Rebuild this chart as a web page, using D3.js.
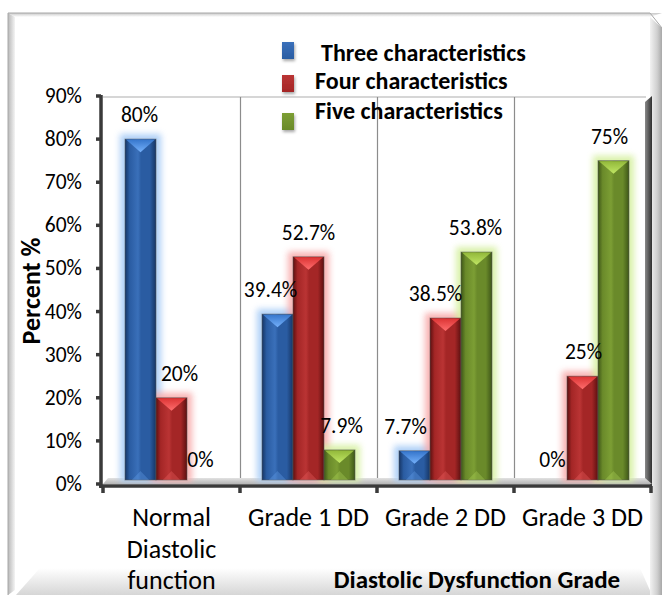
<!DOCTYPE html>
<html><head><meta charset="utf-8">
<script src="https://cdn.jsdelivr.net/npm/d3@7"></script>
<style>
html,body{margin:0;padding:0;background:#fff;}
svg{display:block;}
text{font-family:Carlito,Lato,"Open Sans",sans-serif;fill:#000;}
</style></head>
<body>
<svg id="c" width="662" height="595"></svg>
<script>
// ---- data ----
const categories = [["Normal","Diastolic","function"],["Grade 1 DD"],["Grade 2 DD"],["Grade 3 DD"]];
const seriesNames = ["Three characteristics","Four characteristics","Five characteristics"];
const three = [80, 39.4, 7.7, 0];
const four  = [20, 52.7, 38.5, 25];
const five  = [0, 7.9, 53.8, 75];
const valueLabels = [["80%","20%","0%"],["39.4%","52.7%","7.9%"],["7.7%","38.5%","53.8%"],["0%","25%","75%"]];
const yTicks = [0,10,20,30,40,50,60,70,80,90];
// label horizontal nudges (layout only)
const labelNudge = [[-1,8,-2],[-7,0,2],[-9,-10,-1],[1,1,-4]];

const seriesValues = [three, four, five];
const palette = [
  {dark:"#163564", mid:"#2a5ca2", light:"#3a70ba", cap1:"#74b0fa", cap2:"#3676cc", halo:"#a6cbf6", leg:"#3a73bd"},
  {dark:"#5c1010", mid:"#a42626", light:"#ba3434", cap1:"#ff6e6e", cap2:"#dc3434", halo:"#f8aaaa", leg:"#c23232"},
  {dark:"#3e5618", mid:"#6a8a2a", light:"#7c9e34", cap1:"#c0e664", cap2:"#92b83a", halo:"#d6f0a0", leg:"#8cb43e"}
];

const svg = d3.select("#c");
const defs = svg.append("defs");

// ---- frame ----
const gFrame = svg.append("g");
const lg = defs.append("linearGradient").attr("id","bevL").attr("x1",0).attr("x2",1).attr("y1",0).attr("y2",0);
lg.append("stop").attr("offset",0).attr("stop-color","#b8b8b8");
lg.append("stop").attr("offset",1).attr("stop-color","#f4f4f4");
const rg = defs.append("linearGradient").attr("id","bevR").attr("x1",0).attr("x2",1).attr("y1",0).attr("y2",0);
rg.append("stop").attr("offset",0).attr("stop-color","#f2f2f2");
rg.append("stop").attr("offset",0.6).attr("stop-color","#cfcfcf");
rg.append("stop").attr("offset",1).attr("stop-color","#a8a8a8");
const bg = defs.append("linearGradient").attr("id","bevB").attr("x1",0).attr("x2",0).attr("y1",0).attr("y2",1);
bg.append("stop").attr("offset",0).attr("stop-color","#ffffff");
bg.append("stop").attr("offset",1).attr("stop-color","#d6d6d6");
const tg = defs.append("linearGradient").attr("id","bevT").attr("x1",0).attr("x2",0).attr("y1",0).attr("y2",1);
tg.append("stop").attr("offset",0).attr("stop-color","#c8c8c8");
tg.append("stop").attr("offset",1).attr("stop-color","#ffffff");

gFrame.append("rect").attr("x",8).attr("y",13).attr("width",654).attr("height",600).attr("fill","#fff");
gFrame.append("path").attr("d","M40,568 L640,568 L652,595 L16,595 Z").attr("fill","url(#bevB)");
gFrame.append("path").attr("d","M8,13 L662,13 L650,17 L15,17 Z").attr("fill","url(#bevT)");
gFrame.append("path").attr("d","M8,13 L15,17 L15,590 L8,595 Z").attr("fill","url(#bevL)");
gFrame.append("path").attr("d","M650,17 L662,28 L662,595 L650,595 Z").attr("fill","url(#bevR)");
gFrame.append("path").attr("d","M8,595 L8,13 L650,13 L662,28").attr("fill","none").attr("stroke","#a8a8a8").attr("stroke-width",1);

// ---- scales ----
const x0 = d3.scaleBand().domain(d3.range(categories.length)).range([103,651]).paddingInner(0).paddingOuter(0);
const x1 = d3.scaleBand().domain(d3.range(seriesNames.length)).range([22, x0.bandwidth()-22]).padding(0);
const y = d3.scaleLinear().domain([0,90]).range([484,96]);

// ---- back wall / grid ----
const gGrid = svg.append("g");
gGrid.append("line").attr("x1",103).attr("x2",646).attr("y1",97).attr("y2",97).attr("stroke","#c8c8c8").attr("stroke-width",1.5);
categories.slice(1).forEach((c,i)=>{
  const xx = Math.round(x0(i+1))+0.5;
  gGrid.append("line").attr("x1",xx).attr("x2",xx).attr("y1",97).attr("y2",478).attr("stroke","#8c8c8c").attr("stroke-width",1.2);
});
// right wall
const rw = defs.append("linearGradient").attr("id","rwall").attr("x1",0).attr("x2",1).attr("y1",0).attr("y2",0);
rw.append("stop").attr("offset",0).attr("stop-color","#8a8a8a");
rw.append("stop").attr("offset",1).attr("stop-color","#303030");
gGrid.append("path").attr("d","M645,102 L652,96 L652,486 L645,480 Z").attr("fill","url(#rwall)");
// floor
const fl = defs.append("linearGradient").attr("id","floor").attr("x1",0).attr("x2",0).attr("y1",0).attr("y2",1);
fl.append("stop").attr("offset",0).attr("stop-color","#e2e2e2");
fl.append("stop").attr("offset",1).attr("stop-color","#b4b4b4");
gGrid.append("path").attr("d","M108,478 L645,478 L652,484 L103,484 Z").attr("fill","url(#floor)");

// ---- bars ----
const blur = defs.append("filter").attr("id","glow").attr("x","-50%").attr("y","-50%").attr("width","200%").attr("height","200%");
blur.append("feGaussianBlur").attr("stdDeviation",3);
const shadow = defs.append("filter").attr("id","shd").attr("x","-50%").attr("y","-50%").attr("width","200%").attr("height","200%");
shadow.append("feDropShadow").attr("dx",1).attr("dy",2).attr("stdDeviation",1.5).attr("flood-color","#000").attr("flood-opacity",0.35);
palette.forEach((p,s)=>{
  const g = defs.append("linearGradient").attr("id","body"+s).attr("x1",0).attr("x2",1).attr("y1",0).attr("y2",0);
  [[0,p.dark],[0.15,p.mid],[0.42,p.light],[0.52,p.mid],[0.8,p.mid],[1,p.dark]].forEach(st=>g.append("stop").attr("offset",st[0]).attr("stop-color",st[1]));
  const cg = defs.append("linearGradient").attr("id","cap"+s).attr("x1",0).attr("x2",0).attr("y1",0).attr("y2",1);
  cg.append("stop").attr("offset",0).attr("stop-color",p.cap2);
  cg.append("stop").attr("offset",1).attr("stop-color",p.cap1);
  const lgd = defs.append("linearGradient").attr("id","leg"+s).attr("x1",0).attr("x2",0).attr("y1",0).attr("y2",1);
  lgd.append("stop").attr("offset",0).attr("stop-color",p.light);
  lgd.append("stop").attr("offset",1).attr("stop-color",p.mid);
});

const barData = [];
categories.forEach((c,ci)=>seriesNames.forEach((sn,si)=>barData.push({ci,si,v:seriesValues[si][ci]})));

const gBars = svg.append("g");
const bars = barData.filter(d=>d.v>0);
const bw = x1.bandwidth();
// halos
gBars.selectAll("rect.halo").data(bars).join("rect").attr("class","halo")
  .attr("x",d=>x0(d.ci)+x1(d.si)-5).attr("y",d=>y(d.v)-5)
  .attr("width",bw+10).attr("height",d=>y(0)-y(d.v)+3)
  .attr("fill",d=>palette[d.si].halo).attr("filter","url(#glow)").attr("opacity",0.9);
bars.forEach(d=>{
  const bx = x0(d.ci)+x1(d.si), top = y(d.v), bot = y(0)-4;
  const g = gBars.append("g");
  g.append("rect").attr("x",bx).attr("y",top).attr("width",bw).attr("height",bot-top)
    .attr("fill",`url(#body${d.si})`).attr("stroke","#5a5a5a").attr("stroke-opacity",0.55).attr("stroke-width",1);
  const capH = Math.min(bw*0.42, (bot-top)*0.55);
  g.append("path").attr("d",`M${bx+1},${top+0.5} L${bx+bw-1},${top+0.5} L${bx+bw/2},${top+capH} Z`).attr("fill",`url(#cap${d.si})`);
  g.append("path").attr("d",`M${bx+bw*0.22},${bot} L${bx+bw/2},${bot-Math.min(9,(bot-top)*0.45)} L${bx+bw*0.78},${bot} Z`)
    .attr("fill",palette[d.si].cap1).attr("opacity",0.28);
});

// ---- value labels ----
svg.append("g").selectAll("text").data(barData).join("text")
  .attr("x",d=>x0(d.ci)+x1(d.si)+bw/2+labelNudge[d.ci][d.si])
  .attr("y",d=>y(d.v)-17)
  .attr("text-anchor","middle").attr("font-size",21.5)
  .text(d=>valueLabels[d.ci][d.si]);

// ---- axes ----
const gAx = svg.append("g");
gAx.append("line").attr("x1",101).attr("x2",101).attr("y1",95).attr("y2",488).attr("stroke","#3a3a3a").attr("stroke-width",3.5);
gAx.append("line").attr("x1",99).attr("x2",652).attr("y1",486).attr("y2",486).attr("stroke","#3a3a3a").attr("stroke-width",3.5);
gAx.selectAll("line.yt").data(yTicks).join("line").attr("class","yt")
  .attr("x1",96).attr("x2",101).attr("y1",d=>y(d)).attr("y2",d=>y(d)).attr("stroke","#3a3a3a").attr("stroke-width",3.5);
gAx.selectAll("text.yl").data(yTicks).join("text").attr("class","yl")
  .attr("x",82).attr("y",d=>y(d)+7).attr("text-anchor","end").attr("font-size",21.5)
  .text(d=>d+"%");
const xTickPos = d3.range(categories.length+1).map(i=> i<categories.length ? x0(i) : x0.range()[1]);
gAx.selectAll("line.xt").data(xTickPos).join("line").attr("class","xt")
  .attr("x1",d=>d).attr("x2",d=>d).attr("y1",486).attr("y2",493).attr("stroke","#3a3a3a").attr("stroke-width",3.5);
const catText = gAx.selectAll("text.xl").data(categories).join("text").attr("class","xl")
  .attr("x",(d,i)=>x0(i)+x0.bandwidth()/2).attr("y",526).attr("text-anchor","middle").attr("font-size",26);
catText.each(function(lines){
  const t = d3.select(this);
  lines.forEach((ln,k)=>t.append("tspan").attr("x",t.attr("x")).attr("dy",k===0?0:31.5).text(ln));
});

// axis titles
svg.append("text").attr("x",477).attr("y",588).attr("text-anchor","middle").attr("font-size",25).attr("font-weight","bold")
  .text("Diastolic Dysfunction Grade");
svg.append("text").attr("transform","translate(40,291) rotate(-90)").attr("text-anchor","middle").attr("font-size",26).attr("font-weight","bold")
  .text("Percent %");

// ---- legend ----
const legY = [[42,59],[75,92],[113,130]];
const legTX = [321,315,315];
const legTY = [61,89,119];
const gLeg = svg.append("g");
seriesNames.forEach((n,i)=>{
  gLeg.append("rect").attr("x",282).attr("y",legY[i][0]).attr("width",12).attr("height",legY[i][1]-legY[i][0])
    .attr("fill",`url(#leg${i})`).attr("filter","url(#shd)");
  gLeg.append("text").attr("x",legTX[i]).attr("y",legTY[i]).attr("font-size",24).attr("font-weight","bold").text(n);
});
</script>
</body></html>
